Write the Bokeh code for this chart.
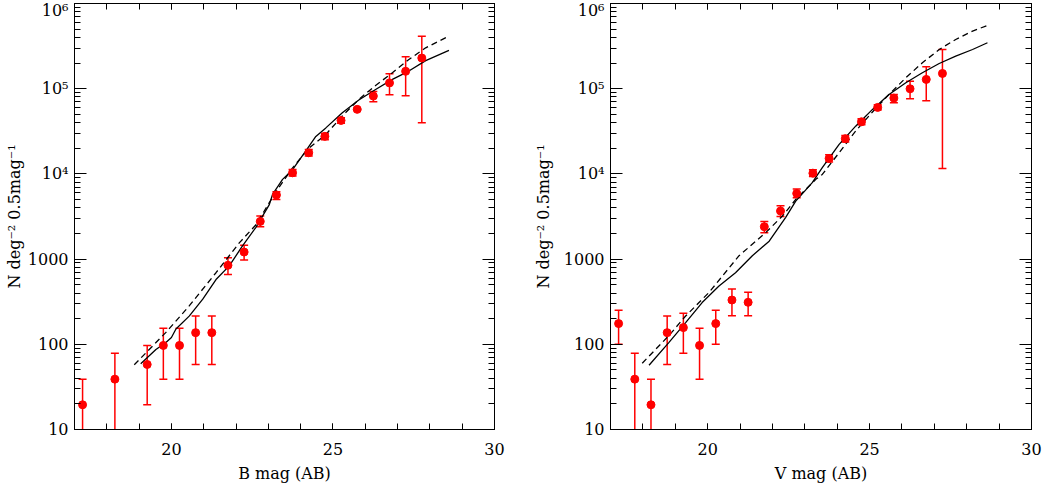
from bokeh.plotting import figure
from bokeh.layouts import row
from bokeh.models import (FixedTicker, LogAxis, LinearAxis, CustomJSTickFormatter,
                          Whisker, TeeHead, ColumnDataSource, Range1d)
from bokeh.embed import file_html
from bokeh.resources import INLINE

# ---------------- data: B band (left) ----------------
B_mag = [17.25, 18.25, 19.25, 19.75, 20.25, 20.75, 21.25, 21.75, 22.25, 22.75,
         23.25, 23.75, 24.25, 24.75, 25.25, 25.75, 26.25, 26.75, 27.25, 27.75]
B_N = [19.5, 39, 58, 97, 97, 137, 137, 846, 1210, 2770,
       5650, 10300, 17700, 27600, 42400, 57200, 81900, 117000, 160000, 229000]
B_hi = [39, 78.5, 97, 154, 154, 215, 215, 1040, 1450, 3200,
        6180, 11300, 19400, 29850, 45700, 58500, 92900, 149700, 237000, 414000]
B_lo = [1, 1, 19.5, 39, 39, 58, 58, 658, 977, 2400,
        5000, 9440, 16200, 25100, 39200, 55900, 70300, 84900, 82700, 39800]

B_solid_mag = [19.05, 19.52, 19.83, 20.0, 20.14, 20.55, 20.97, 21.38, 21.79, 22.2,
               22.61, 23.03, 23.13, 23.44, 23.75, 24.16, 24.47, 24.78, 25.29, 25.8,
               26.32, 26.84, 27.35, 27.87, 28.59]
B_solid_N = [59, 87, 105, 120, 151, 214, 339, 575, 832, 1429,
             2344, 4365, 5754, 8630, 11220, 18620, 27540, 34670, 52240, 73620,
             97720, 128500, 161100, 213800, 281800]
B_dash_mag = [18.85, 19.83, 20.55, 21.38, 22.1, 22.61, 23.25, 23.75, 24.25, 24.78,
              25.29, 25.8, 26.32, 26.84, 27.35, 27.87, 28.59]
B_dash_N = [57.5, 138, 282, 692, 1549, 2512, 6310, 11750, 19950, 29040,
            47860, 74820, 109100, 153800, 220300, 302000, 415000]

# ---------------- data: V band (right) ----------------
V_mag = [17.25, 17.75, 18.25, 18.75, 19.25, 19.75, 20.25, 20.75, 21.25, 21.75,
         22.25, 22.75, 23.25, 23.75, 24.25, 24.75, 25.25, 25.75, 26.25, 26.75, 27.25]
V_N = [175, 39, 19.5, 137, 157, 97, 175, 331, 311, 2400,
       3670, 5900, 10200, 15200, 25900, 40900, 60300, 77600, 99800, 128500, 151000]
V_hi = [251, 78.5, 39, 215, 231, 154, 251, 445, 408, 2770,
        4240, 6650, 11200, 16800, 28300, 44400, 64900, 85700, 122700, 180600, 288700]
V_lo = [100, 1, 1, 58, 78.5, 39, 100, 217, 217, 2040,
        3160, 5260, 9350, 13800, 23700, 37800, 56100, 68400, 76200, 72100, 11610]

V_solid_mag = [18.19, 18.8, 19.32, 19.83, 20.35, 20.86, 21.38, 21.9, 22.41, 22.72,
               23.23, 23.54, 24.06, 24.57, 25.09, 25.6, 26.12, 26.63, 27.15, 27.66,
               28.18, 28.64]
V_solid_N = [56.8, 104.7, 180, 309, 484, 692, 1096, 1622, 3090, 4786,
             7889, 11830, 22180, 36310, 57150, 85700, 117500, 153800, 197700, 241500,
             288400, 345900]
V_dash_mag = [17.98, 18.8, 19.32, 20.04, 20.97, 21.79, 22.31, 22.72, 23.34, 23.54,
              24.06, 24.57, 25.09, 25.6, 26.12, 26.63, 27.15, 27.66, 28.18, 28.64]
V_dash_N = [60, 126, 215, 405, 1096, 2042, 3206, 5012, 8630, 9863,
            17740, 31840, 53210, 85700, 134300, 201400, 288400, 378400, 474200, 552100]

# ---------------- axes ----------------
X_MAJOR = [20, 25, 30]
X_MINOR = [17, 18, 19, 20, 21, 22, 23, 24, 25, 26, 27, 28, 29, 30]
Y_MAJOR = [10, 100, 1000, 10000, 100000, 1000000]
Y_TICK_LABELS = ["10", "100", "1000", "10\u2074", "10\u2075", "10\u2076"]
Y_MINOR = [m * d for d in (10, 100, 1000, 10000, 100000) for m in range(2, 10)]
Y_LABEL = "N deg\u207b\u00b2 0.5mag\u207b\u00b9"

FONT = "DejaVu Serif"
RED = "#ff0000"


def make_panel(mag, N, lo, hi, sx, sy, dx, dy, xlabel, fw, bl, br, ylab_standoff):
    p = figure(frame_width=fw, frame_height=426, y_axis_type="log",
               x_range=Range1d(17, 30), y_range=Range1d(10, 1e6),
               output_backend="svg", toolbar_location=None,
               min_border_left=bl, min_border_right=br,
               min_border_top=3, min_border_bottom=43)
    p.grid.visible = False
    p.outline_line_color = "black"
    p.outline_line_width = 1
    p.background_fill_color = "white"

    xt = FixedTicker(ticks=X_MAJOR, minor_ticks=X_MINOR)
    yt = FixedTicker(ticks=Y_MAJOR, minor_ticks=Y_MINOR)
    yfmt = CustomJSTickFormatter(args=dict(labels=Y_TICK_LABELS),
                                 code="return labels[Math.round(Math.log10(tick)) - 1];")
    empty = CustomJSTickFormatter(code="return '';")

    bottom = p.below[0]
    left_ax = p.left[0]
    bottom.ticker = xt
    bottom.axis_label = xlabel
    left_ax.ticker = yt
    left_ax.formatter = yfmt
    left_ax.axis_label = Y_LABEL

    top = LinearAxis(ticker=xt, formatter=empty)
    right = LogAxis(ticker=yt, formatter=empty)
    p.add_layout(top, "above")
    p.add_layout(right, "right")

    for ax in [bottom, top]:
        ax.major_tick_in = 6
        ax.major_tick_out = 0
        ax.minor_tick_in = 6
        ax.minor_tick_out = 0
    for ax in [left_ax, right]:
        ax.major_tick_in = 12
        ax.major_tick_out = 0
        ax.minor_tick_in = 6
        ax.minor_tick_out = 0
    for ax in [top, right]:
        ax.major_label_standoff = 0
        ax.major_label_text_font_size = "1px"
    for ax in [bottom, left_ax, top, right]:
        ax.axis_line_color = "black"
        ax.major_tick_line_color = "black"
        ax.minor_tick_line_color = "black"
        ax.major_label_text_font = FONT
        ax.major_label_text_color = "black"
        ax.axis_label_text_font = FONT
        ax.axis_label_text_font_style = "normal"
        ax.axis_label_text_color = "black"
    for ax in [bottom, left_ax]:
        ax.major_label_text_font_size = "16px"
        ax.axis_label_text_font_size = "16px"
    bottom.major_label_standoff = 13
    bottom.axis_label_standoff = 6
    left_ax.major_label_standoff = 6
    left_ax.axis_label_standoff = ylab_standoff

    p.line(sx, sy, line_color="black", line_width=1.3)
    p.line(dx, dy, line_color="black", line_width=1.3, line_dash="6 4")

    src = ColumnDataSource(dict(mag=mag, N=N, lo=lo, hi=hi))
    w = Whisker(base="mag", lower="lo", upper="hi", source=src, dimension="height",
                line_color=RED, line_width=1.5,
                upper_head=TeeHead(size=8, line_color=RED, line_width=1.5),
                lower_head=TeeHead(size=8, line_color=RED, line_width=1.5))
    p.add_layout(w)
    p.scatter("mag", "N", source=src, size=8, fill_color=RED, line_color=RED)
    return p


left = make_panel(B_mag, B_N, B_lo, B_hi, B_solid_mag, B_solid_N, B_dash_mag, B_dash_N,
                  "B mag (AB)", 420, 74, 28, 1)
right = make_panel(V_mag, V_N, V_lo, V_hi, V_solid_mag, V_solid_N, V_dash_mag, V_dash_N,
                   "V mag (AB)", 421, 88, 12, 8)

layout = row(left, right)
open("out.html", "w").write(file_html(layout, INLINE))
